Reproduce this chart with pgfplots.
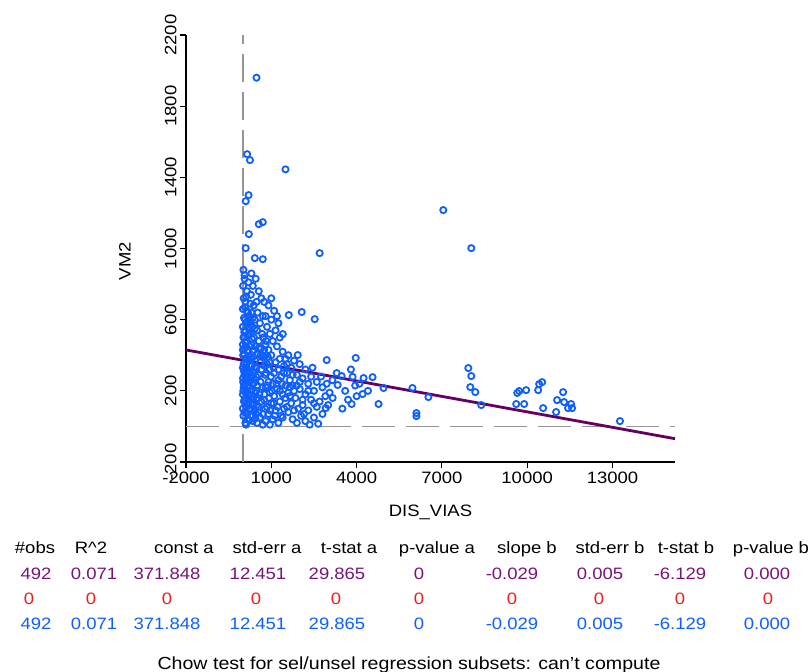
\documentclass[border=0pt]{standalone}
\usepackage{fontspec}
\setmainfont{Liberation Sans}[FakeStretch=1.12]
\usepackage{pgfplots}
\pgfplotsset{compat=1.18}

\definecolor{ptblue}{RGB}{15,95,255}
\definecolor{regpurple}{RGB}{100,0,100}
\definecolor{rowpurple}{RGB}{120,20,120}
\definecolor{rowred}{RGB}{235,30,30}
\definecolor{dashgray}{RGB}{150,150,150}

\newcommand{\tf}{\fontsize{16.5}{18}\selectfont}

\begin{document}
\begin{tikzpicture}
\path[use as bounding box] (0pt,0pt) rectangle (812pt,-672pt);

\begin{axis}[
    at={(186pt,-462pt)}, anchor=south west,
    scale only axis, width=489pt, height=427pt,
    xmin=-2000, xmax=15200, ymin=-200, ymax=2200,
    axis x line=bottom, axis y line=left,
    axis line style={-, line width=1.2pt},
    tick align=outside, major tick length=6pt,
    tick style={black, line width=1.2pt},
    xtick={-2000,1000,4000,7000,10000,13000},
    ytick={-200,200,600,1000,1400,1800,2200},
    scaled x ticks=false, scaled y ticks=false,
    /pgf/number format/1000 sep={},
    /pgf/number format/assume math mode=true,
    ticklabel style={font=\tf},
    yticklabel style={rotate=90, anchor=south},
    xlabel={DIS\_VIAS}, ylabel={VM2},
    label style={font=\tf},
    xlabel style={at={(axis description cs:0.5,-0.118)}, anchor=center},
    ylabel style={at={(axis description cs:-0.125,0.47)}, anchor=center, rotate=0},
    clip=false,
]
% reference lines
\addplot[dashgray, line width=1.5pt, dash pattern=on 28pt off 10pt] coordinates {(0,-200) (0,2200)};
\addplot[dashgray, line width=1.5pt, dash pattern=on 33pt off 11pt] coordinates {(-2000,0) (15200,0)};

% observations
\addplot[only marks, mark=o, mark size=3.1pt, ptblue, line width=1.8pt, mark options={line width=1.8pt}] coordinates {
(20,880)(60,830)(10,790)(140,760)(30,720)(90,700)(0,660)(180,640)(40,610)(110,580)
(0,560)(70,540)(200,520)(20,500)(130,480)(0,460)(60,440)(160,420)(10,400)(90,380)
(220,370)(30,350)(0,330)(120,310)(60,290)(180,270)(10,250)(80,240)(30,220)(150,200)
(0,180)(100,160)(40,140)(200,120)(0,100)(60,80)(20,60)(170,40)(90,20)(40,310)
(0,430)(130,650)(80,600)(5,270)(15,200)(230,300)(110,450)(50,500)(190,560)(250,600)
(300,860)(450,830)(350,790)(560,760)(280,740)(480,700)(650,720)(380,680)(300,640)(520,640)
(700,620)(420,600)(600,580)(330,560)(500,540)(680,520)(270,520)(390,500)(560,480)(300,460)
(450,450)(640,440)(350,420)(520,410)(700,400)(280,390)(430,370)(600,360)(320,340)(480,330)
(660,320)(370,300)(550,290)(290,280)(440,260)(620,250)(340,240)(510,230)(690,220)(260,200)
(420,190)(580,180)(310,160)(470,150)(650,140)(380,120)(540,110)(290,90)(450,70)(600,50)
(350,30)(500,20)(700,10)
(60,850)(200,810)(120,730)(260,690)(70,670)(220,620)(350,610)(150,590)(270,570)(420,550)
(50,530)(170,510)(330,490)(90,470)(230,450)(400,430)(40,410)(190,395)(320,380)(130,360)
(260,345)(410,335)(70,320)(200,305)(330,290)(470,280)(110,265)(250,255)(390,245)(60,230)
(180,215)(320,205)(470,200)(100,190)(240,175)(380,165)(530,160)(60,150)(200,135)(340,130)
(480,120)(120,110)(260,100)(400,90)(540,80)(160,70)(300,60)(440,45)(230,35)(110,10)
(560,440)(620,400)(750,430)(820,480)(880,390)(760,340)(940,360)(820,300)(990,280)(870,230)
(1020,200)(760,180)(920,160)(1080,130)(780,100)(960,90)(1120,60)(700,70)(1180,240)(1080,330)
(750,700)(900,680)(1100,650)(800,620)(1000,600)(1250,580)(850,560)(1150,540)(950,520)(720,500)
(1300,500)(1050,480)(800,460)(1200,450)(900,430)(1400,420)(1000,400)(750,390)(1300,380)(1150,360)
(850,350)(1450,340)(950,320)(1100,300)(780,290)(1350,280)(1250,260)(900,250)(1050,240)(1500,230)
(800,220)(1200,210)(950,190)(1400,180)(1100,170)(750,150)(1300,140)(1000,130)(850,110)(1450,100)
(1150,90)(900,70)(1350,60)(1050,40)(800,30)(1250,20)(950,10)(1450,300)(1500,380)(1200,620)
(1000,720)(1250,320)(1380,240)(1300,200)(1500,160)(1220,110)(1400,50)(1550,350)(1650,220)(1750,290)
(1600,400)(1800,370)(2000,350)(1700,330)(2200,320)(1550,300)(1900,290)(2400,280)(2100,270)(1650,260)
(2600,250)(2300,240)(1750,230)(2800,220)(2000,210)(2500,200)(1600,190)(2200,180)(2900,170)(1850,160)
(2400,150)(2700,140)(1700,130)(2100,120)(2600,110)(1950,100)(2300,90)(1600,80)(2800,70)(2050,60)
(2500,50)(1750,40)(2200,30)(1900,20)(2650,15)(2350,10)(1550,110)(2000,250)(2750,280)(1800,200)
(2450,330)(2950,240)(3000,120)(1650,170)(2150,70)(1900,230)(2300,200)(2100,150)(2500,130)(1800,90)
(3474,283)(3860,279)(4246,272)(4562,277)(4948,216)(4772,126)(4211,182)(3334,233)(3158,160)(2913,103)
(3825,126)(3600,200)(3950,230)(3300,300)(3700,150)(4100,240)(3150,260)(3500,100)(4400,200)(3050,190)
(3800,320)(4000,170)(3970,385)
(5965,216)(6105,75)(6105,58)(6526,165)(7930,328)(8035,283)(8000,221)(8175,193)(8386,120)(9650,188)
(9720,199)(9965,204)(9615,126)(9895,126)(10387,204)(10422,238)(10527,249)(10562,103)(11018,81)(11264,193)
(11053,148)(11299,137)(11545,126)(11580,103)(11440,103)(13264,30)
(7050,1216)(8035,1002)
(480,1960)(150,1530)(250,1497)(1500,1445)(200,1300)(100,1266)(560,1137)(700,1148)(210,1081)(100,1002)
(420,946)(700,940)(2700,974)(1614,626)(2070,643)(2527,603)(1404,519)(1930,401)(2948,373)
};

% fitted line: 371.848 - 0.029 x
\addplot[regpurple, line width=2.8pt] coordinates {(-2000,429.85) (15200,-68.95)};
\end{axis}

% regression table
\foreach \x/\t in {35/\#obs, 91/R\^{}2, 184/const a, 267/std-err a, 349/t-stat a, 437/p-value a, 527/slope b, 610/std-err b, 686/t-stat b, 771/p-value b}
  \node[font=\tf, anchor=base, inner sep=0pt] at (\x pt,-553pt) {\t};
\foreach \x/\t in {36/492, 94/0.071, 167/371.848, 258/12.451, 337/29.865, 419/0, 512/-0.029, 600/0.005, 680/-6.129, 767/0.000}
  \node[font=\tf, anchor=base, inner sep=0pt, text=rowpurple] at (\x pt,-579pt) {\t};
\foreach \x in {29,91,167,256,336,419,512,599,680,768}
  \node[font=\tf, anchor=base, inner sep=0pt, text=rowred] at (\x pt,-604pt) {0};
\foreach \x/\t in {36/492, 94/0.071, 167/371.848, 258/12.451, 337/29.865, 419/0, 512/-0.029, 600/0.005, 680/-6.129, 767/0.000}
  \node[font=\tf, anchor=base, inner sep=0pt, text=ptblue] at (\x pt,-629pt) {\t};
\node[font=\fontsize{17.5}{19}\selectfont, anchor=base, inner sep=0pt] at (409pt,-669pt) {Chow test for sel/unsel regression subsets: can't compute};
\end{tikzpicture}
\end{document}
